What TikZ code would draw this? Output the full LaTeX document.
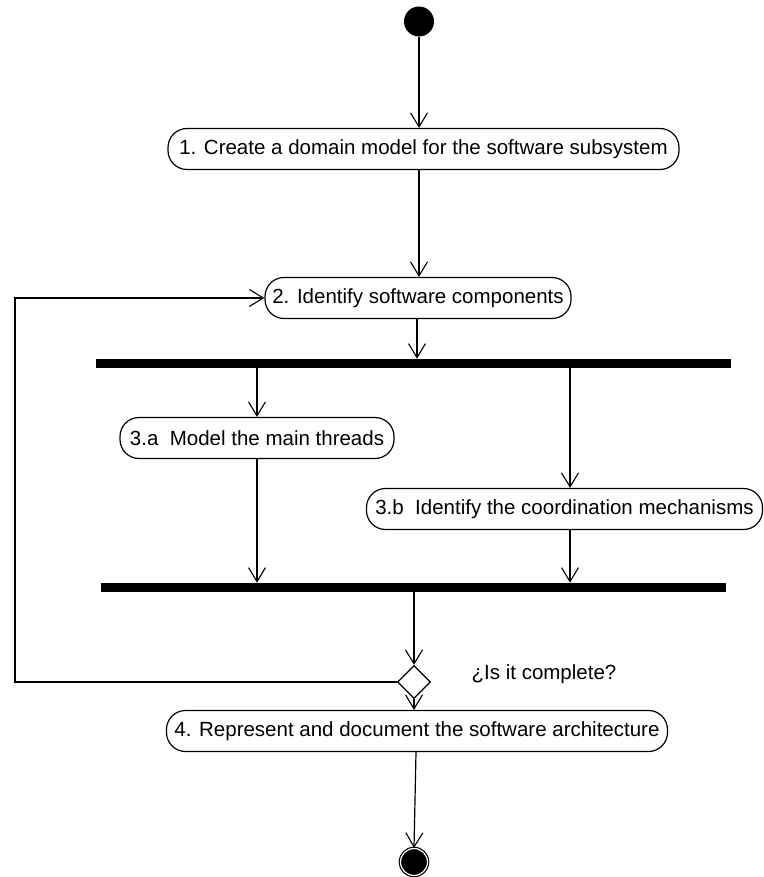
\documentclass[tikz,border=0pt]{standalone}
\usepackage{fontspec}
\setmainfont{Liberation Sans}
\usetikzlibrary{arrows.meta,shapes.geometric}
\begin{document}
\begin{tikzpicture}[x=1pt,y=-1pt,
  line width=1.2pt,
  flow/.style={-{Straight Barb[length=14pt,width=17pt,line width=1.1pt]}},
  labelfont/.style={font=\fontsize{20.5}{24}\selectfont},
  action/.style={draw,rectangle,rounded corners=19pt,minimum height=41pt,
    inner sep=0pt,labelfont},
  syncbar/.style={fill=black,draw=none,rectangle,minimum height=8.5pt,inner sep=0pt},
  decision/.style={draw,diamond,minimum width=33pt,minimum height=33pt,inner sep=0pt},
  initial/.style={circle,fill=black,minimum size=30pt,inner sep=0pt},
  final/.style={circle,draw,double=white,double distance=1.2pt,fill=black,minimum size=27pt,inner sep=0pt}]
\useasboundingbox (0,0) rectangle (763,877);

% nodes
\node[initial] (start) at (419,21.5) {};
\node[action,minimum width=511pt] (n1) at (423.5,149) {1. Create a domain model for the software subsystem};
\node[action,minimum width=306pt] (n2) at (418,298) {2. Identify software components};
\node[syncbar,minimum width=635pt] (fork) at (413.5,363.5) {};
\node[action,minimum width=274pt] (n3a) at (257,438) {3.a\ \ Model the main threads};
\node[action,minimum width=396pt] (n3b) at (564.5,509) {3.b\ \ Identify the coordination mechanisms};
\node[syncbar,minimum width=625pt] (join) at (413.5,587.5) {};
\node[decision] (dec) at (414,682) {};
\node[labelfont] (q) at (544,674) {¿Is it complete?};
\node[action,minimum width=501pt] (n4) at (417,731) {4. Represent and document the software architecture};
\node[final] (end) at (414,862) {};

% connectors
\coordinate (c1) at (419,0);
\coordinate (c2) at (417,0);
\coordinate (c3) at (257,0);
\coordinate (c4) at (570,0);
\coordinate (c5) at (416,0);
\coordinate (loopx) at (15,0);

\draw[flow] (start.south) -- (start |- n1.north);
\draw[flow] (c1 |- n1.south) -- (c1 |- n2.north);
\draw[flow] (c2 |- n2.south) -- (c2 |- fork.north);
\draw[flow] (c3 |- fork.south) -- (c3 |- n3a.north);
\draw[flow] (c4 |- fork.south) -- (c4 |- n3b.north);
\draw[flow] (c3 |- n3a.south) -- (c3 |- join.north);
\draw[flow] (c4 |- n3b.south) -- (c4 |- join.north);
\draw[flow] (dec |- join.south) -- (dec.north);
\draw[flow] (dec.south) -- (dec |- n4.north);
\draw[flow] (c5 |- n4.south) -- (end.north);
\draw[flow] (dec.west) -- (loopx |- dec.west) -- (loopx |- n2.west) -- (n2.west);
\end{tikzpicture}
\end{document}
